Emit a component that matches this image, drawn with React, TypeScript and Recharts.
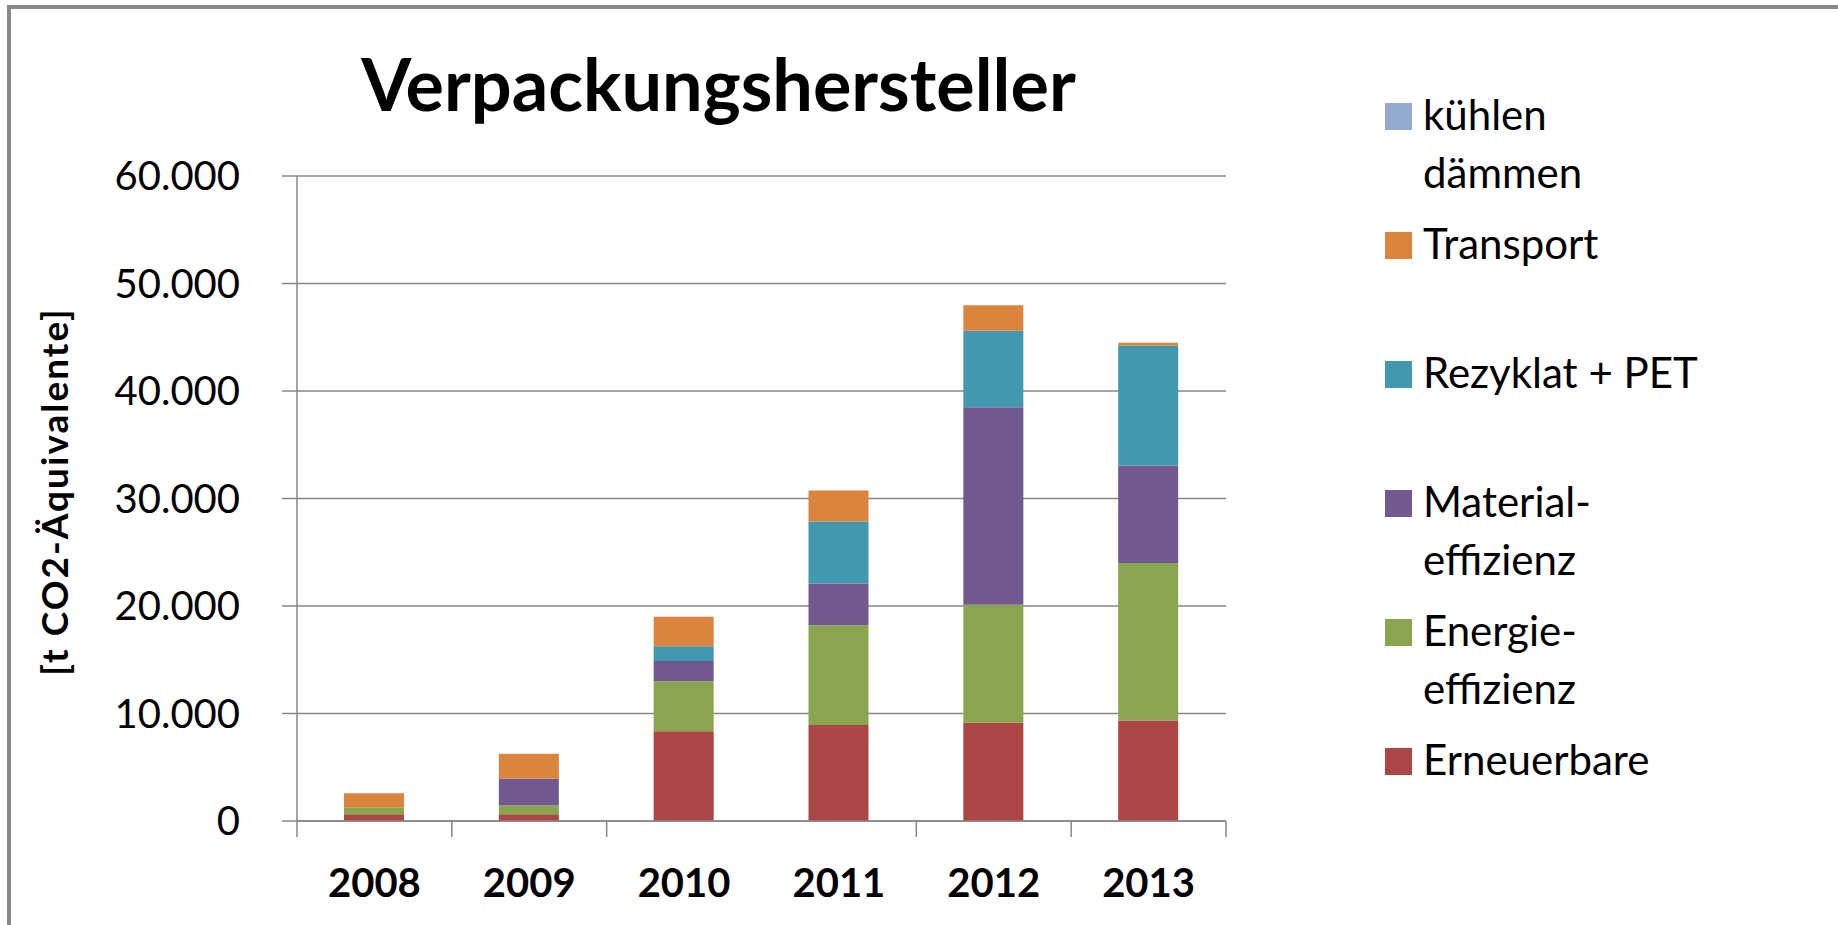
import { Bar, BarChart, CartesianGrid, Label, Legend, XAxis, YAxis } from "recharts";

const years = ["2008", "2009", "2010", "2011", "2012", "2013"];

// t CO2-Äquivalente per measure
const erneuerbare = [620, 620, 8360, 8940, 9150, 9350];
const energieeffizienz = [620, 830, 4630, 9270, 10970, 14650];
const materialeffizienz = [0, 2480, 1900, 3890, 18370, 9060];
const rezyklatPet = [0, 0, 1370, 5750, 7120, 11170];
const transport = [1330, 2320, 2730, 2900, 2360, 250];
const kuehlenDaemmen = [0, 0, 0, 0, 0, 0];

const yTicks = [0, 10000, 20000, 30000, 40000, 50000, 60000];
// category boundaries that carry a tick mark on the x axis
const boundaryTicks = [0, 1, 2, 4, 5, 6];

const FONT = "Lato, 'Open Sans', sans-serif";
const GRID = "#878787";
const X_TICK_MARGIN = 30;

// bottom to top in the stack
const series = [
  { key: "erneuerbare", lines: ["Erneuerbare"], color: "#AA4643" },
  { key: "energieeffizienz", lines: ["Energie-", "effizienz"], color: "#89A54E" },
  { key: "materialeffizienz", lines: ["Material-", "effizienz"], color: "#71588F" },
  { key: "rezyklatPet", lines: ["Rezyklat + PET"], color: "#4198AF" },
  { key: "transport", lines: ["Transport"], color: "#DB843D" },
  { key: "kuehlenDaemmen", lines: ["kühlen", "dämmen"], color: "#93A9CF" },
];

const data = years.map((year, i) => ({
  year,
  erneuerbare: erneuerbare[i],
  energieeffizienz: energieeffizienz[i],
  materialeffizienz: materialeffizienz[i],
  rezyklatPet: rezyklatPet[i],
  transport: transport[i],
  kuehlenDaemmen: kuehlenDaemmen[i],
}));

function formatThousands(v: number): string {
  return String(v).replace(/\B(?=(\d{3})+(?!\d))/g, ".");
}

function YearTick(props: any) {
  const { x, y, payload, index } = props;
  const axisY = y - X_TICK_MARGIN;
  const half = payload?.offset ?? 0;
  const marks: number[] = [];
  if (boundaryTicks.includes(index)) marks.push(x - half);
  if (index === years.length - 1 && boundaryTicks.includes(index + 1)) marks.push(x + half);
  return (
    <g>
      {marks.map((mx) => (
        <line key={mx} x1={mx} x2={mx} y1={axisY} y2={axisY + 16} stroke={GRID} strokeWidth={1.5} />
      ))}
      <text
        x={x}
        y={axisY + 76}
        textAnchor="middle"
        fontFamily={FONT}
        fontWeight={700}
        fontSize={40}
        fill="#000"
      >
        {payload.value}
      </text>
    </g>
  );
}

function AxisTitle(props: any) {
  const vb = props.viewBox || { x: 0, y: 0, width: 0, height: 0 };
  const cx = vb.x + 68;
  const cy = vb.y + vb.height / 2 - 7;
  return (
    <text
      x={cx}
      y={cy}
      transform={`rotate(-90, ${cx}, ${cy})`}
      textAnchor="middle"
      fontFamily={FONT}
      fontWeight={700}
      fontSize={37}
      letterSpacing={2}
      fill="#000"
    >
      [t CO2-Äquivalente]
    </text>
  );
}

function LegendBox() {
  const items = [...series].reverse();
  return (
    <div style={{ position: "relative", width: 420, height: 740, fontFamily: FONT, fontSize: 42 }}>
      {items.map((s, i) => (
        <div key={s.key} style={{ position: "absolute", left: 0, top: i * 129, width: 420 }}>
          <div
            style={{ position: "absolute", left: 0, top: 18, width: 27, height: 27, background: s.color }}
          />
          <div
            style={{
              position: "absolute",
              left: 38,
              top: 0,
              lineHeight: "58px",
              whiteSpace: "pre",
              color: "#000",
            }}
          >
            {s.lines.join("\n")}
          </div>
        </div>
      ))}
    </div>
  );
}

export default function App() {
  return (
    <div style={{ position: "absolute", left: 0, top: 0, width: 1838, height: 925, background: "#fff", overflow: "hidden" }}>
      <div
        style={{
          position: "absolute",
          left: 7,
          top: 5,
          width: 1860,
          height: 960,
          border: "4px solid #888",
          boxSizing: "border-box",
        }}
      />
      <div style={{ position: "absolute", left: 0, top: 0 }}>
        <BarChart
          width={1838}
          height={925}
          data={data}
          margin={{ top: 176, right: 612, bottom: 0, left: 0 }}
        >
          <CartesianGrid horizontal vertical={false} stroke={GRID} strokeWidth={1.5} />
          <XAxis
            dataKey="year"
            height={104}
            axisLine={{ stroke: GRID, strokeWidth: 1.5 }}
            tickLine={false}
            tickSize={0}
            tickMargin={X_TICK_MARGIN}
            tick={<YearTick />}
            interval={0}
          />
          <YAxis
            width={297}
            domain={[0, 60000]}
            ticks={yTicks}
            allowDataOverflow
            tickFormatter={formatThousands}
            axisLine={{ stroke: GRID, strokeWidth: 1.5 }}
            tickLine={{ stroke: GRID, strokeWidth: 1.5 }}
            tickSize={15}
            tickMargin={42}
            tick={{ fontFamily: FONT, fontSize: 40, fill: "#000" }}
          >
            <Label content={<AxisTitle />} />
          </YAxis>
          <Legend
            layout="horizontal"
            verticalAlign="middle"
            align="center"
            content={() => <LegendBox />}
            wrapperStyle={{ left: 1385, top: 85, width: 420, height: 740 }}
          />
          {series.map((s) => (
            <Bar
              key={s.key}
              dataKey={s.key}
              stackId="a"
              fill={s.color}
              barSize={60}
              isAnimationActive={false}
            />
          ))}
        </BarChart>
      </div>
      <div
        style={{
          position: "absolute",
          left: 0,
          top: 40,
          width: 1437,
          textAlign: "center",
          fontFamily: FONT,
          fontWeight: 700,
          fontSize: 72,
          lineHeight: 1.2,
          color: "#000",
          whiteSpace: "nowrap",
        }}
      >
        Verpackungshersteller
      </div>
    </div>
  );
}
